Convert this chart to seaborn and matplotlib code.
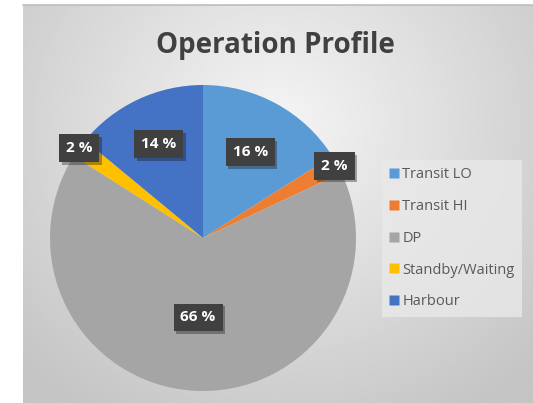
import numpy as np
import matplotlib
matplotlib.use("Agg")
import matplotlib.pyplot as plt
import matplotlib.patheffects as pe
from matplotlib.lines import Line2D
import seaborn as sns

categories = ["Transit LO", "Transit HI", "DP", "Standby/Waiting", "Harbour"]
shares = [16, 2, 66, 2, 14]
colors = ["#5B9BD5", "#ED7D31", "#A5A5A5", "#FFC000", "#4472C4"]
# distance of each percentage label from the centre (fraction of radius)
label_dist = [0.64, 0.98, 0.52, 1.0, 0.68]

sns.set_theme(style="white")
plt.rcParams["font.family"] = ["Open Sans", "DejaVu Sans"]

W, H = 533, 403
fig = plt.figure(figsize=(W / 100, H / 100), dpi=100)
fig.patch.set_facecolor("white")

# chart panel with a radial grey gradient
bg = fig.add_axes([23 / W, 0, (W - 23) / W, (H - 5) / H])
yy, xx = np.mgrid[0:1:200j, 0:1:250j]
d = np.sqrt(((xx - 0.5) / 0.75) ** 2 + ((yy - 0.3) / 0.9) ** 2)
shade = np.clip(0.96 - 0.2 * d, 0.77, 0.96)
bg.imshow(shade, cmap="gray", vmin=0, vmax=1, aspect="auto", extent=[0, 1, 0, 1])
bg.set_axis_off()
fig.add_artist(Line2D([23 / W, 1], [(H - 5) / H] * 2, color="#bdbdbd", lw=1.2))

# pie
cx, cy, r = 203, 238, 153
ax = fig.add_axes([(cx - r) / W, (H - cy - r) / H, 2 * r / W, 2 * r / H])
wedges, _ = ax.pie(shares, colors=colors, startangle=90, counterclock=False,
                   wedgeprops=dict(linewidth=0))
ax.set_xlim(-1, 1)
ax.set_ylim(-1, 1)
ax.set_aspect("equal")
ax.set_axis_off()

for w, v, dist in zip(wedges, shares, label_dist):
    ang = np.deg2rad((w.theta1 + w.theta2) / 2)
    t = ax.text(dist * np.cos(ang), dist * np.sin(ang), f"{v} %",
                ha="center", va="center", color="white", fontsize=11,
                fontweight="bold",
                bbox=dict(boxstyle="square,pad=0.45", fc="#404040", ec="none"))
    t.get_bbox_patch().set_path_effects(
        [pe.SimplePatchShadow(offset=(2, -2), alpha=0.35), pe.Normal()])

fig.text(275 / W, 1 - 45 / H, "Operation Profile", ha="center", va="center",
         fontsize=20, fontweight="bold", color="#404040")

handles = [Line2D([], [], marker="s", ls="none", markersize=7,
                  markerfacecolor=c, markeredgecolor="none") for c in colors]
leg = fig.legend(handles, categories, loc="upper left",
                 bbox_to_anchor=(382 / W, 1 - 160 / H), frameon=True,
                 fontsize=10.5, labelspacing=1.15, handlelength=0.6,
                 handletextpad=0.3, borderpad=0.5, borderaxespad=0,
                 fancybox=False)
leg.get_frame().set_facecolor("#e9e9e9")
leg.get_frame().set_edgecolor("none")
for txt in leg.get_texts():
    txt.set_color("#595959")

fig.savefig("out.png", dpi=100)
